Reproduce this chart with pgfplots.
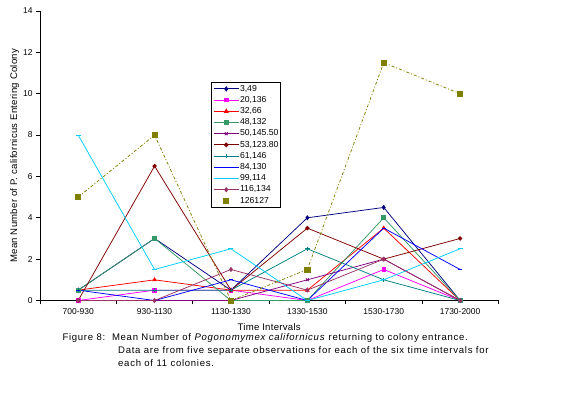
\documentclass[border=0pt]{standalone}
\usepackage{fontspec}
\setmainfont{Liberation Sans}
\newfontfamily\capfont[LetterSpace=7.5]{Liberation Sans}
\newfontfamily\labfont[LetterSpace=3]{Liberation Sans}
\usepackage{pgfplots}
\pgfplotsset{compat=1.18}
\definecolor{cNavy}{RGB}{0,0,128}
\definecolor{cMag}{RGB}{255,0,255}
\definecolor{cRed}{RGB}{255,0,0}
\definecolor{cSea}{RGB}{51,153,102}
\definecolor{cPurple}{RGB}{128,0,128}
\definecolor{cDRed}{RGB}{128,0,0}
\definecolor{cTeal}{RGB}{0,128,128}
\definecolor{cBlue}{RGB}{0,0,255}
\definecolor{cCyan}{RGB}{0,204,255}
\definecolor{cPlum}{RGB}{153,51,102}
\definecolor{cOlive}{RGB}{128,128,0}
\begin{document}
\begin{tikzpicture}
\useasboundingbox (0,0) rectangle (575bp,394bp);
\begin{axis}[
 at={(40bp,93.5bp)}, anchor=south west,
 scale only axis, width=458.3bp, height=289.5bp,
 xmin=-0.5, xmax=5.5, ymin=0, ymax=14,
 axis x line*=bottom, axis y line*=left,
 axis line style={line width=0.8bp, black},
 xtick={-0.5,0.5,1.5,2.5,3.5,4.5,5.5},
 xticklabels={700-930,930-1130,1130-1330,1330-1530,1530-1730,1730-2000,{}},
 xticklabel style={xshift=38.19bp, yshift=-1bp},
 ytick={0,2,...,14},
 tick align=outside, major tick length=4bp,
 tick style={line width=0.8bp, black},
 /pgf/number format/assume math mode=true,
 tick label style={font=\fontsize{8.5}{10}\selectfont},
 xlabel={Time Intervals},
 ylabel={Mean Number of P. californicus Entering Colony},
 label style={font=\labfont\fontsize{9.6}{11}\selectfont},
 xlabel style={at={(axis description cs:0.5,-0.0926)}, anchor=center},
 ylabel style={at={(axis description cs:-0.0552,0.5)}, anchor=center},
 clip=false,
 legend style={at={(axis description cs:0.3738,0.7537)}, anchor=north west,
   draw=black, line width=1bp, font=\fontsize{8.7}{10}\selectfont,
   inner xsep=1.5bp, inner ysep=0.5bp, row sep=0pt, column sep=0pt,
   nodes={inner sep=0.8bp, text height=7bp, text depth=2.6bp}},
 legend cell align=left,
 legend image code/.code={\draw[mark repeat=2,mark phase=2,line width=0.9bp] plot coordinates {(0bp,0bp) (12.5bp,0bp) (25bp,0bp)};},
 every axis plot/.append style={line width=0.75bp},
]
\addplot[cNavy, mark=diamond*, mark size=2bp] coordinates {(0,0.5) (1,3) (2,0.5) (3,4) (4,4.5) (5,0)};
\addlegendentry{3,49}
\addplot[cMag, mark=square*, mark size=1.8bp] coordinates {(0,0) (1,0.5) (2,0.5) (3,0) (4,1.5) (5,0)};
\addlegendentry{20,136}
\addplot[cRed, mark=triangle*, mark size=2bp] coordinates {(0,0.5) (1,1) (2,0.5) (3,0.5) (4,3.5) (5,0)};
\addlegendentry{32,66}
\addplot[cSea, mark=square*, mark size=2bp] coordinates {(0,0.5) (1,3) (2,0) (3,0) (4,4) (5,0)};
\addlegendentry{48,132}
\addplot[cPurple, mark=x, mark size=2bp] coordinates {(0,0) (1,0) (2,0) (3,1) (4,2) (5,0)};
\addlegendentry{50,145.50}
\addplot[cDRed, mark=*, mark size=1.8bp] coordinates {(0,0) (1,6.5) (2,0.5) (3,3.5) (4,2) (5,3)};
\addlegendentry{53,123.80}
\addplot[cTeal, mark=+, mark size=2.2bp] coordinates {(0,0.5) (1,0.5) (2,0.5) (3,2.5) (4,1) (5,0)};
\addlegendentry{61,146}
\addplot[cBlue, mark=-, mark size=2bp] coordinates {(0,0.5) (1,0) (2,1) (3,0) (4,3.5) (5,1.5)};
\addlegendentry{84,130}
\addplot[cCyan, mark=-, mark size=2.5bp] coordinates {(0,8) (1,1.5) (2,2.5) (3,0) (4,1) (5,2.5)};
\addlegendentry{99,114}
\addplot[cPlum, mark=diamond*, mark size=2bp] coordinates {(0,0) (1,0) (2,1.5) (3,0.5) (4,2) (5,0)};
\addlegendentry{116,134}
\addplot[cOlive, dash pattern=on 3bp off 2bp on 1bp off 2bp, mark=square*, mark size=2.6bp, mark options={solid},
  legend image code/.code={\draw[cOlive, mark=square*, mark size=2.6bp] plot coordinates {(12.5bp,0bp)};}]
  coordinates {(0,5) (1,8) (2,0) (3,1.5) (4,11.5) (5,10)};
\addlegendentry{126127}
\end{axis}
\node[anchor=west, inner sep=0pt, font=\capfont\fontsize{9.6}{11}\selectfont] at (62.3bp,56.3bp) {Figure 8:\ \ Mean Number of \textit{Pogonomymex californicus} returning to colony entrance.};
\node[anchor=west, inner sep=0pt, font=\capfont\fontsize{9.6}{11}\selectfont] at (118bp,43bp) {Data are from five separate observations for each of the six time intervals for};
\node[anchor=west, inner sep=0pt, font=\capfont\fontsize{9.6}{11}\selectfont] at (118bp,30.7bp) {each of 11 colonies.};
\end{tikzpicture}
\end{document}
